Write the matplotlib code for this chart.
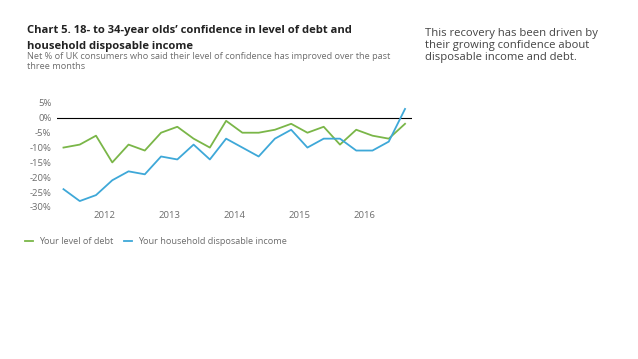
import numpy as np
import matplotlib.pyplot as plt

plt.rcParams['font.family'] = ['Open Sans', 'DejaVu Sans']

# quarterly, Q4 2011 .. Q1 2017
debt = [-10, -9, -6, -15, -9, -11, -5, -3, -7, -10, -1, -5,
        -5, -4, -2, -5, -3, -9, -4, -6, -7, -2]
income = [-24, -28, -26, -21, -18, -19, -13, -14, -9, -14, -7, -10,
          -13, -7, -4, -10, -7, -7, -11, -11, -8, 3]
years = ['2012', '2013', '2014', '2015', '2016']
yticks = [5, 0, -5, -10, -15, -20, -25, -30]

green = '#7ab648'
blue = '#3ea8d8'
grey = '#6d6d6d'

fig = plt.figure(figsize=(6.38, 3.59), dpi=100)
ax = fig.add_axes([0.0893, 0.4234, 0.557, 0.2897])

x = np.arange(len(debt))
ax.plot(x, debt, color=green, lw=1.3, label='Your level of debt')
ax.plot(x, income, color=blue, lw=1.3, label='Your household disposable income')
ax.axhline(0, color='black', lw=0.8, zorder=0)

ax.set_xlim(-0.4, 21.45)
ax.set_ylim(-30, 5)
ax.set_yticks(yticks)
ax.set_yticklabels([f'{v}%' for v in yticks])
ax.set_xticks([2.5, 6.5, 10.5, 14.5, 18.5])
ax.set_xticklabels(years)
ax.tick_params(length=0, labelsize=6.8, labelcolor=grey, pad=4)
ax.tick_params(axis='x', pad=3)
for s in ax.spines.values():
    s.set_visible(False)

fig.text(0.042, 0.893, "Chart 5. 18- to 34-year olds\u2019 confidence in level of debt and\nhousehold disposable income",
         fontsize=8.15, fontweight='bold', color='#222222', va='center', linespacing=1.6)
fig.text(0.042, 0.855, "Net % of UK consumers who said their level of confidence has improved over the past\nthree months",
         fontsize=6.6, color=grey, va='top', linespacing=1.2)
fig.text(0.666, 0.873, "This recovery has been driven by\ntheir growing confidence about\ndisposable income and debt.",
         fontsize=8.1, color='#444444', va='center', linespacing=1.1)

ax.legend(loc='center left', bbox_to_anchor=(-0.09, -0.33), ncol=2, frameon=False,
          fontsize=6.6, labelcolor=grey, handlelength=0.9, handletextpad=0.6,
          columnspacing=1.2, borderaxespad=0, borderpad=0)

fig.savefig('out.png', dpi=100)
